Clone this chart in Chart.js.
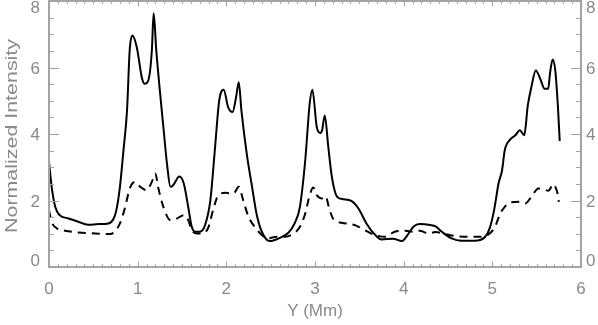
<!DOCTYPE html>
<html>
<head>
<meta charset="utf-8">
<script src="https://cdn.jsdelivr.net/npm/chart.js@4/dist/chart.umd.min.js"></script>
<style>
html,body{margin:0;padding:0;background:#fff;}
#wrap{width:598px;height:325px;position:relative;}
</style>
</head>
<body>
<div id="wrap"><canvas id="c" width="598" height="325"></canvas></div>
<script>
// ---- data ----
const solidX = [0,0.03,0.07,0.12,0.22,0.33,0.44,0.56,0.67,0.73,0.76,0.80,0.84,0.88,0.91,0.94,0.99,1.05,1.08,1.12,1.16,1.18,1.21,1.25,1.29,1.33,1.37,1.40,1.47,1.52,1.57,1.61,1.65,1.70,1.76,1.82,1.87,1.92,1.97,2.02,2.07,2.11,2.14,2.17,2.23,2.29,2.34,2.40,2.49,2.59,2.70,2.77,2.83,2.89,2.94,2.97,3.02,3.06,3.08,3.11,3.15,3.19,3.25,3.32,3.41,3.49,3.58,3.68,3.75,3.88,3.98,4.03,4.11,4.18,4.30,4.36,4.43,4.54,4.65,4.80,4.92,4.97,5.02,5.07,5.11,5.14,5.20,5.26,5.31,5.36,5.40,5.44,5.49,5.54,5.59,5.63,5.65,5.68,5.71,5.74,5.76];
const solidY = [3.16,2.41,1.81,1.56,1.46,1.36,1.27,1.29,1.31,1.46,1.71,2.41,3.51,4.71,6.51,6.96,6.61,5.66,5.51,5.61,6.51,7.63,6.51,5.31,4.21,3.12,2.41,2.46,2.72,2.51,1.81,1.21,1.06,1.06,1.26,2.01,3.51,5.01,5.33,4.81,4.66,5.11,5.56,4.71,3.41,2.41,1.61,1.06,0.78,0.86,1.03,1.31,1.81,3.21,4.91,5.33,4.21,4.03,4.11,4.56,3.61,2.71,2.11,2.04,1.99,1.76,1.31,0.96,0.83,0.85,0.78,0.91,1.21,1.29,1.26,1.22,1.06,0.86,0.79,0.79,0.91,1.16,1.71,2.51,2.91,3.51,3.83,3.96,4.11,3.96,4.86,5.41,5.91,5.66,5.36,5.36,5.81,6.24,5.91,4.81,3.79];
const dashX = [0,0.03,0.09,0.18,0.33,0.52,0.69,0.74,0.80,0.86,0.91,0.97,1.03,1.10,1.16,1.20,1.23,1.29,1.37,1.43,1.52,1.57,1.61,1.67,1.74,1.80,1.85,1.91,1.99,2.08,2.14,2.19,2.25,2.32,2.40,2.47,2.57,2.66,2.76,2.83,2.89,2.94,2.98,3.02,3.08,3.12,3.16,3.21,3.30,3.45,3.56,3.68,3.79,3.90,4.02,4.11,4.18,4.28,4.36,4.47,4.58,4.73,4.88,4.97,5.03,5.09,5.14,5.20,5.29,5.37,5.44,5.52,5.59,5.63,5.69,5.71,5.74,5.75];
const dashY = [1.71,1.36,1.16,1.09,1.04,1.01,0.99,1.06,1.31,1.81,2.36,2.56,2.41,2.31,2.56,2.81,2.41,1.81,1.41,1.44,1.56,1.41,1.11,1.01,1.01,1.21,1.71,2.16,2.23,2.21,2.41,2.01,1.51,1.21,0.96,0.86,0.91,0.91,1.01,1.21,1.61,2.16,2.39,2.16,2.06,2.13,1.76,1.43,1.33,1.26,1.11,0.96,0.91,1.06,1.09,1.06,1.09,1.01,1.05,0.99,0.93,0.91,0.91,1.01,1.21,1.61,1.81,1.94,1.96,1.91,2.11,2.36,2.33,2.29,2.49,2.41,2.16,1.96];
const xTicks = [0,1,2,3,4,5,6];
const yTicks = [0,2,4,6,8];
const xTitle = "Y (Mm)";
const yTitle = "Normalized Intensity";

const AXIS = "#a3a3a3";
const TXT = "#8a8a8a";
const FONT = "17px 'Liberation Sans', Arial, sans-serif";

const axesPlugin = {
  id: 'idlAxes',
  afterDraw(chart) {
    const ctx = chart.ctx, a = chart.chartArea;
    const xs = chart.scales.x, ys = chart.scales.y;
    ctx.save();
    ctx.strokeStyle = AXIS; ctx.lineWidth = 2;
    ctx.strokeRect(a.left, a.top, a.right - a.left, a.bottom - a.top);
    ctx.lineWidth = 1.2;
    ctx.beginPath();
    for (let v = 0; v <= 6.0001; v += 0.1) {
      const vv = Math.round(v * 10) / 10;
      const px = Math.round(xs.getPixelForValue(vv)) + 0.5;
      const major = Math.abs(vv - Math.round(vv)) < 1e-6;
      const L = major ? 5.5 : 2.8;
      ctx.moveTo(px, a.bottom); ctx.lineTo(px, a.bottom - L);
      ctx.moveTo(px, a.top); ctx.lineTo(px, a.top + L);
    }
    for (let v = 0; v <= 8.0001; v += 0.5) {
      const py = Math.round(ys.getPixelForValue(v)) + 0.5;
      const major = Math.abs(v / 2 - Math.round(v / 2)) < 1e-6;
      const L = major ? 10 : 5;
      ctx.moveTo(a.left, py); ctx.lineTo(a.left + L, py);
      ctx.moveTo(a.right, py); ctx.lineTo(a.right - L, py);
    }
    ctx.stroke();

    ctx.fillStyle = TXT; ctx.font = FONT;
    ctx.textBaseline = 'middle';
    ctx.textAlign = 'center';
    xTicks.forEach(v => ctx.fillText(String(v), xs.getPixelForValue(v), a.bottom + 22));
    yTicks.forEach(v => {
      let py = ys.getPixelForValue(v) + 1.5;
      py = Math.max(a.top + 7, Math.min(a.bottom - 6, py));
      ctx.textAlign = 'right'; ctx.fillText(String(v), a.left - 9, py);
      ctx.textAlign = 'left'; ctx.fillText(String(v), a.right + 5, py);
    });
    ctx.textAlign = 'center';
    ctx.fillText(xTitle, (a.left + a.right) / 2, a.bottom + 44);
    ctx.save();
    ctx.translate(12, (a.top + a.bottom) / 2 + 2);
    ctx.rotate(-Math.PI / 2);
    const w = ctx.measureText(yTitle).width;
    const target = 194;
    ctx.scale(target / w, 1);
    ctx.fillText(yTitle, 0, 0);
    ctx.restore();
    ctx.restore();
  }
};

new Chart(document.getElementById('c'), {
  type: 'line',
  data: {
    datasets: [
      {
        data: solidX.map((x, i) => ({ x: x, y: solidY[i] })),
        borderColor: '#000', borderWidth: 2, pointRadius: 0,
        cubicInterpolationMode: 'monotone', fill: false
      },
      {
        data: dashX.map((x, i) => ({ x: x, y: dashY[i] })),
        borderColor: '#000', borderWidth: 2, pointRadius: 0, borderDash: [8, 6],
        cubicInterpolationMode: 'monotone', fill: false
      }
    ]
  },
  options: {
    responsive: false,
    animation: false,
    events: [],
    layout: { padding: { left: 49, right: 17, top: 1, bottom: 58 } },
    plugins: { legend: { display: false }, tooltip: { enabled: false }, title: { display: false } },
    scales: {
      x: { type: 'linear', min: 0, max: 6, display: false },
      y: { type: 'linear', min: 0, max: 8, display: false }
    }
  },
  plugins: [axesPlugin]
});
</script>
</body>
</html>
